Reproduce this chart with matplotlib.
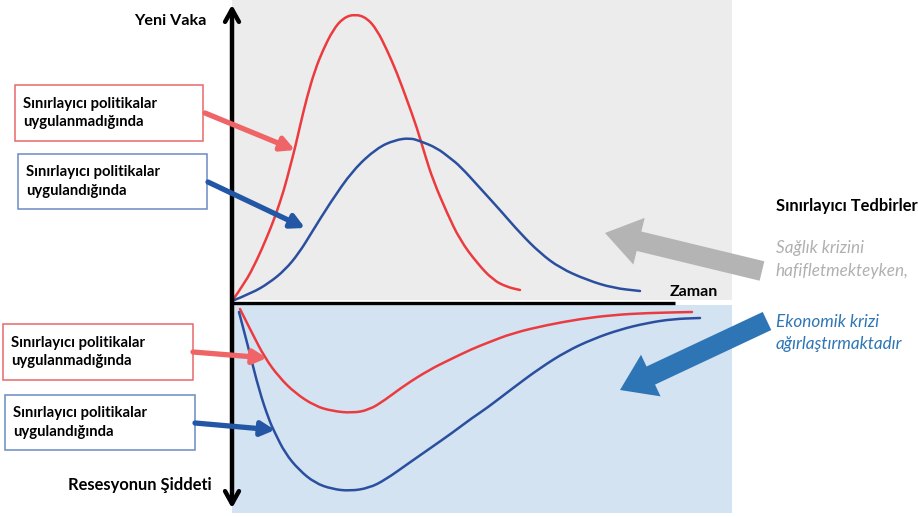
import matplotlib
matplotlib.use("Agg")
import matplotlib.pyplot as plt
from matplotlib.patches import Rectangle, FancyArrow, PathPatch
from matplotlib.path import Path

plt.rcParams['font.family'] = ['Lato', 'DejaVu Sans']

# ---- data (time units, value units) ----
red_top_t = [0, 1.3, 2.5, 3.5, 4.3, 5.2, 5.8, 6.3, 6.8, 7.5, 8.3, 9.1, 10.1, 11.1, 12.3, 13.5, 14.5, 15.5,
             16.5, 17.5, 18.5, 19.3, 20.1, 21.5, 22.8, 24.5, 26.1, 27.5, 28.8]
red_top_v = [0, 1.8, 4.1, 6.4, 8.4, 11.1, 13.4, 15.3, 17.5, 20.4, 23.1, 25.1, 27.1, 28.3, 28.7, 28.3, 27.1, 25.1,
             22.8, 20.1, 17.3, 14.6, 12.1, 8.8, 6.1, 3.8, 2.1, 1.4, 1.1]

blue_top_t = [0, 2.0, 3.7, 5.3, 6.7, 8.0, 9.8, 12.1, 14.5, 16.3, 17.8, 18.8, 20.5, 21.8, 22.8, 24.8, 26.8,
              28.8, 30.8, 32.8, 35.5, 38.1, 40.8]
blue_top_v = [0, 0.8, 1.8, 3.1, 4.8, 6.9, 9.8, 13.1, 15.3, 16.1, 16.3, 16.0, 15.3, 14.3, 13.5, 11.3, 9.1,
              6.8, 4.8, 3.3, 2.1, 1.3, 1.0]

red_bot_t = [0.8, 2.0, 3.3, 4.7, 6.3, 8.3, 10.0, 12.0, 13.7, 15.3, 17.3, 19.7, 21.7, 24.0, 25.5, 28.1, 31.5,
             34.8, 38.1, 41.5, 46.0]
red_bot_v = [-0.8, -3.2, -5.7, -7.6, -9.2, -10.5, -11.0, -11.2, -10.9, -9.9, -8.4, -6.9, -5.9, -4.8, -4.2,
             -3.2, -2.4, -1.8, -1.4, -1.2, -1.1]

blue_bot_t = [0.7, 1.7, 2.7, 3.7, 4.3, 5.3, 6.7, 8.3, 10.0, 11.8, 13.7, 15.3, 17.7, 20.0, 22.0, 24.0, 25.5,
              28.1, 30.8, 33.5, 36.1, 38.8, 41.5, 44.1, 46.8]
blue_bot_v = [-1.1, -4.9, -8.9, -11.9, -13.2, -15.2, -16.9, -18.2, -18.8, -19.0, -18.7, -17.9, -16.2, -14.6,
              -13.2, -11.7, -10.7, -8.7, -6.7, -5.0, -3.8, -2.85, -2.2, -1.8, -1.7]

box_text_no = "Sınırlayıcı politikalar\nuygulanmadığında"
box_text_yes = "Sınırlayıcı politikalar\nuygulandığında"
y_label_top = "Yeni Vaka"
y_label_bot = "Resesyonun Şiddeti"
x_label = "Zaman"
right_title = "Sınırlayıcı Tedbirler"
right_gray = "Sağlık krizini\nhafifletmekteyken,"
right_blue = "Ekonomik krizi\nağırlaştırmaktadır"

RED = '#ec3b3f'
BLUE = '#2b4f9f'
RED_ARR = '#ef6466'
BLUE_ARR = '#2456a6'
RED_EDGE = '#e8686a'
BLUE_EDGE = '#6a8cc4'
GRAY_BG = '#ececec'
BLUE_BG = '#d3e3f2'

fig = plt.figure(figsize=(9.18, 5.17), dpi=100)
ax = fig.add_axes([0, 0, 1, 1])
ax.set_xlim(-23.2, 68.6)
ax.set_ylim(-21.6, 30.1)
ax.axis('off')

# backgrounds
ax.add_patch(Rectangle((0, 0.1), 50, 30.1, facecolor=GRAY_BG, edgecolor='none', zorder=0))
ax.add_patch(Rectangle((0, -21.2), 50, 20.8, facecolor=BLUE_BG, edgecolor='none', zorder=0))

# axes lines
ax.annotate('', xy=(0, 29.9), xytext=(0, -21.0),
            arrowprops=dict(arrowstyle='<->,head_length=0.9,head_width=0.5', lw=3.2, color='black'), zorder=5)
ax.plot([0, 44.3], [-0.15, -0.15], color='black', lw=2.4, zorder=5, solid_capstyle='butt')


def smooth_curve(t, v, color):
    """Draw the read points as a smooth quadratic-Bezier path (points used as control points)."""
    pts = list(zip(t, v))
    verts = [pts[0]]
    codes = [Path.MOVETO]
    for i in range(1, len(pts) - 1):
        mid = ((pts[i][0] + pts[i + 1][0]) / 2, (pts[i][1] + pts[i + 1][1]) / 2)
        verts += [pts[i], mid]
        codes += [Path.CURVE3, Path.CURVE3]
    verts.append(pts[-1])
    codes.append(Path.LINETO)
    ax.add_patch(PathPatch(Path(verts, codes), facecolor='none', edgecolor=color, lw=1.8,
                           capstyle='round', joinstyle='round', zorder=4))


smooth_curve(red_top_t, red_top_v, RED)
smooth_curve(blue_top_t, blue_top_v, BLUE)
smooth_curve(red_bot_t, red_bot_v, RED)
smooth_curve(blue_bot_t, blue_bot_v, BLUE)

# labels
ax.text(-2.5, 28.0, y_label_top, ha='right', va='center', fontsize=11.6, fontweight='bold', zorder=7)
ax.text(-2.0, -18.4, y_label_bot, ha='right', va='center', fontsize=11.9, fontweight='bold', zorder=7)
ax.text(43.8, 0.85, x_label, ha='left', va='center', fontsize=11.5, fontweight='bold', zorder=7)


def box(x0, y0, w, h, edge, txt):
    ax.add_patch(Rectangle((x0, y0), w, h, facecolor='white', edgecolor=edge, lw=1.1, zorder=3))
    ax.text(x0 + 0.8, y0 + h / 2, txt, ha='left', va='center', fontsize=10.7,
            fontweight='bold', linespacing=1.38, zorder=7)


# boxes
box(-21.7, 16.0, 18.8, 5.6, RED_EDGE, box_text_no)
box(-21.4, 9.2, 18.9, 5.5, BLUE_EDGE, box_text_yes)
box(-22.9, -7.9, 19.0, 5.6, RED_EDGE, box_text_no)
box(-22.7, -14.9, 19.0, 5.5, BLUE_EDGE, box_text_yes)


# small arrows
def small_arrow(x0, y0, x1, y1, c):
    ax.annotate('', xy=(x1, y1), xytext=(x0, y0),
                arrowprops=dict(arrowstyle='-|>,head_length=0.8,head_width=0.42', lw=3.8, color=c,
                                shrinkA=0, shrinkB=0), zorder=6)


small_arrow(-2.7, 18.8, 6.3, 15.1, RED_ARR)
small_arrow(-2.4, 11.9, 7.3, 7.3, BLUE_ARR)
small_arrow(-3.9, -5.1, 3.5, -5.7, RED_ARR)
small_arrow(-3.7, -12.2, 4.3, -12.9, BLUE_ARR)

# big arrows
ax.add_patch(FancyArrow(53.0, 3.0, -15.7, 3.8, width=2.0, head_width=4.8, head_length=3.5,
                        length_includes_head=True, color='#b4b4b4', lw=0, zorder=2))
ax.add_patch(FancyArrow(53.5, -2.0, -14.7, -6.9, width=2.0, head_width=4.6, head_length=3.4,
                        length_includes_head=True, color='#2e75b6', lw=0, zorder=2))

# right-hand texts
ax.text(54.4, 9.5, right_title, ha='left', va='center', fontsize=11.9, fontweight='bold', zorder=7)
ax.text(54.4, 4.15, right_gray, ha='left', va='center', fontsize=12.3, style='italic',
        color='#b0b0b0', linespacing=1.5, zorder=7)
ax.text(54.4, -3.2, right_blue, ha='left', va='center', fontsize=12.3, style='italic',
        color='#2e75b6', linespacing=1.5, zorder=7)

fig.savefig('out.png', dpi=100)
